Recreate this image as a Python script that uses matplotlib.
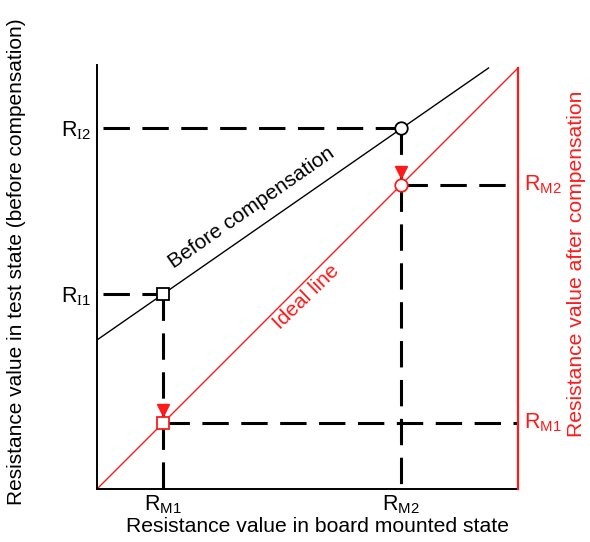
import matplotlib
matplotlib.use("Agg")
import matplotlib.pyplot as plt
from matplotlib.transforms import offset_copy

plt.rcParams['font.family'] = ['Liberation Sans', 'DejaVu Sans']
plt.rcParams['mathtext.fontset'] = 'custom'
plt.rcParams['mathtext.rm'] = 'Liberation Sans'
plt.rcParams['mathtext.tt'] = 'Liberation Serif'
plt.rcParams['lines.scale_dashes'] = False

# ---- data (normalised units) ----
rm_values = [0.157, 0.722]            # R_M1, R_M2 (board mounted)
ri_values = [0.463, 0.857]            # R_I1, R_I2 (test state, before compensation)
before_x = [0.0, 0.93]
before_y = [0.354, 1.0]
ideal_x = [0.0, 1.0]
ideal_y = [0.0, 1.0]
bottom_labels = [r'$\mathrm{R_{M1}}$', r'$\mathrm{R_{M2}}$']
left_labels = [r'$\mathrm{R}_{\mathtt{I}\mathrm{1}}$', r'$\mathrm{R}_{\mathtt{I}\mathrm{2}}$']
right_labels = [r'$\mathrm{R_{M1}}$', r'$\mathrm{R_{M2}}$']

RED = '#ff1a1a'
DASH = (0, (19, 9))

fig = plt.figure(figsize=(5.9, 5.42), dpi=100)
ax = fig.add_axes([97/590, 1-489/542, 421/590, 424/542])
ax.set_xlim(0, 1)
ax.set_ylim(0, 424/421)

for s in ['top', 'right']:
    ax.spines[s].set_visible(False)
ax.spines['left'].set_linewidth(1.4)
ax.spines['bottom'].set_linewidth(1.4)
ax.plot([1, 1], [0, 1], color=RED, lw=1.6, clip_on=False, zorder=3)

# lines
ax.plot(before_x, before_y, color='black', lw=1.0, zorder=2)
ax.plot(ideal_x, ideal_y, color=RED, lw=1.0, zorder=2)

markers = ['s', 'o']
for i in range(2):
    x = rm_values[i]
    yi = ri_values[i]
    ym = rm_values[i]
    ax.plot([0.015, x], [yi, yi], color='black', lw=2.2, linestyle=DASH, zorder=1)
    ax.plot([x, x], [yi, ym], color='black', lw=2.2, linestyle=DASH, zorder=1)
    ax.plot([x, x], [ym, 0], color='black', lw=2.2, linestyle=DASH, zorder=1)
    ax.plot([x, 1], [ym, ym], color='black', lw=2.2, linestyle=DASH, zorder=1)
    ax.plot([x], [yi], marker=markers[i], ms=9, mfc='white', mec='black', mew=1.3, zorder=5)
    ax.plot([x], [ym], marker=markers[i], ms=9, mfc='white', mec=RED, mew=1.3, zorder=5)
    tr = offset_copy(ax.transData, fig=fig, x=0, y=9.5, units='points')
    ax.plot([x], [ym], marker='v', ms=9, color=RED, mec=RED, transform=tr, zorder=4)

ax.set_xticks(rm_values, bottom_labels, fontsize=15.5)
ax.set_yticks(ri_values, left_labels, fontsize=15.5)
ax.tick_params(length=0, pad=4)
ax.tick_params(axis='x', pad=3)
for i in range(2):
    ax.text(1.015, rm_values[i], right_labels[i], color=RED, fontsize=15.5,
            va='center', ha='left', transform=ax.get_yaxis_transform())

fig.text(317/590, 1-527/542, 'Resistance value in board mounted state',
         fontsize=15.2, va='center', ha='center')
fig.text(17/590, 1-262/542, 'Resistance value in test state (before compensation)',
         fontsize=15.0, rotation=90, va='center', ha='center')
fig.text(577/590, 1-264/542, 'Resistance value after compensation', color=RED,
         fontsize=15.2, rotation=90, va='center', ha='center')

ax.text(0.366, 0.668, 'Before compensation', fontsize=15, rotation=34.9,
        rotation_mode='anchor', ha='center', va='center')
ax.text(0.498, 0.457, 'Ideal line', fontsize=15, color=RED, rotation=44,
        rotation_mode='anchor', ha='center', va='center')

fig.savefig('out.png', dpi=100, facecolor='white')
